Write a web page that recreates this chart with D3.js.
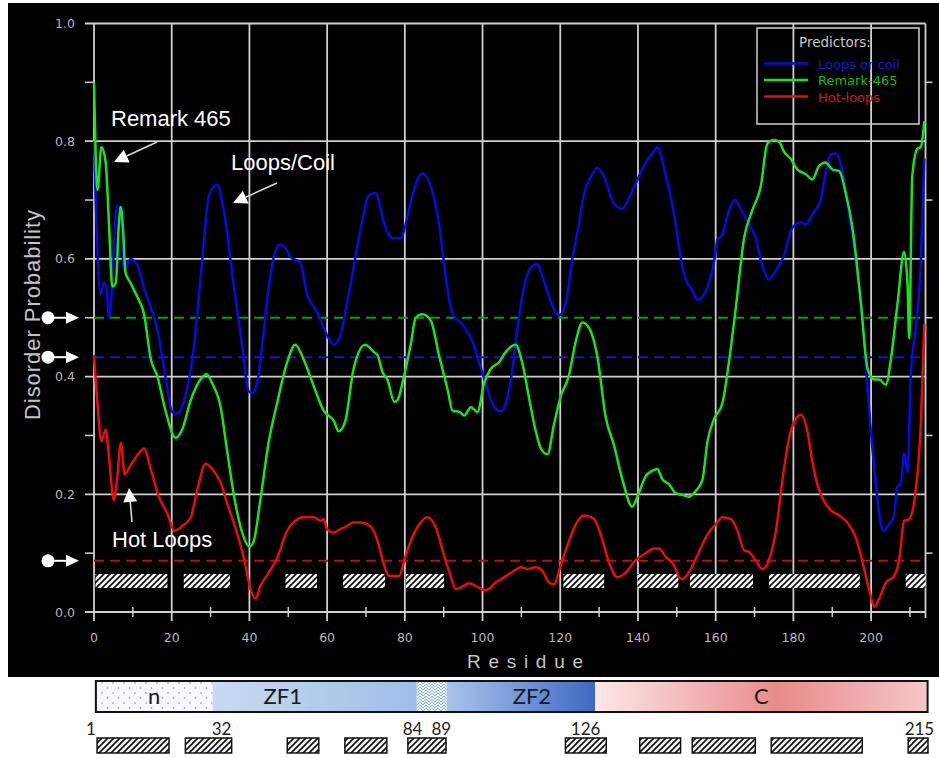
<!DOCTYPE html>
<html>
<head>
<meta charset="utf-8">
<script src="https://cdn.jsdelivr.net/npm/d3@7"></script>
<style>
  body { margin: 0; background: #fff; }
  svg { display: block; }
</style>
</head>
<body>
<div id="chart"></div>
<script>
// ---- data: [residue, probability] ----
const loopsCoil = [[0,0.80],[0.4,0.71],[1.7,0.54],[2.6,0.56],[3.2,0.55],[3.9,0.50],[6,0.69],[6.9,0.68],[7.7,0.58],[9.4,0.60],[11.1,0.59],[12.9,0.55],[16.3,0.48],[18.4,0.40],[20.1,0.34],[21.4,0.337],[23.1,0.357],[25.7,0.45],[27.8,0.594],[29.6,0.708],[31.7,0.726],[33.4,0.682],[36,0.553],[38.1,0.454],[39.8,0.375],[40.7,0.372],[42,0.389],[43.3,0.454],[45,0.553],[47.6,0.624],[48.8,0.622],[50.6,0.603],[53.1,0.594],[54.8,0.54],[57.4,0.51],[60,0.47],[61.7,0.454],[63.4,0.47],[65.1,0.524],[67.7,0.618],[69,0.664],[70.7,0.708],[72.5,0.712],[74.7,0.659],[76.8,0.635],[79,0.635],[80,0.653],[81.5,0.697],[84.5,0.745],[87.1,0.714],[88.8,0.659],[90.5,0.571],[92.3,0.506],[94.8,0.489],[97.4,0.46],[99.1,0.424],[100.8,0.389],[103,0.348],[104.7,0.341],[106,0.354],[107.7,0.413],[109,0.483],[110.7,0.553],[112.4,0.585],[114.1,0.591],[115.4,0.571],[117.1,0.536],[119.7,0.504],[121.4,0.524],[123.1,0.6],[124.8,0.659],[126.1,0.711],[127.8,0.738],[129.5,0.755],[131.2,0.741],[133.8,0.694],[136,0.685],[137.7,0.703],[139.9,0.735],[142,0.764],[143.7,0.779],[145,0.79],[147,0.746],[149.3,0.676],[151.4,0.588],[152.7,0.559],[154,0.547],[155.3,0.53],[156.6,0.536],[158.3,0.559],[160,0.612],[160.4,0.632],[161.7,0.641],[163,0.673],[165,0.7],[166.9,0.679],[168.6,0.659],[170.3,0.635],[172,0.588],[173.7,0.566],[175.5,0.58],[177.6,0.606],[179.7,0.653],[181.9,0.662],[183.2,0.659],[184.9,0.676],[187,0.7],[188.3,0.746],[189.6,0.777],[190.9,0.779],[192.2,0.761],[194.3,0.676],[196.5,0.577],[198.2,0.465],[199.5,0.343],[201.2,0.22],[202.5,0.149],[203.3,0.138],[204.6,0.149],[205.9,0.164],[206.8,0.214],[207.6,0.217],[208.5,0.27],[209.4,0.237],[210.2,0.401],[211.5,0.483],[212.8,0.594],[213.7,0.77]];

const remark465 = [[0,0.9],[0.9,0.717],[1.9,0.79],[3,0.764],[3.9,0.653],[4.7,0.553],[5.6,0.559],[6.4,0.659],[6.9,0.688],[7.5,0.647],[8.1,0.577],[9.4,0.559],[11.1,0.536],[12.9,0.506],[14.6,0.43],[16.3,0.401],[18.4,0.342],[21,0.296],[22.7,0.31],[24.9,0.36],[27.4,0.395],[29,0.404],[30.4,0.389],[32.6,0.348],[34.3,0.272],[36.4,0.184],[38.6,0.126],[40,0.111],[41.1,0.12],[42.8,0.19],[45,0.29],[47.1,0.354],[49.7,0.424],[51.8,0.454],[53.9,0.43],[56.6,0.383],[59.1,0.342],[61.7,0.325],[63,0.307],[64.7,0.325],[66.8,0.413],[69.8,0.454],[72,0.442],[73,0.436],[74.3,0.407],[75.5,0.395],[77.3,0.357],[78.1,0.36],[79.8,0.401],[81.5,0.454],[82.8,0.5],[84.5,0.506],[86.7,0.495],[88.8,0.436],[91,0.378],[92.3,0.342],[94,0.34],[95.3,0.334],[97,0.348],[98.7,0.34],[100.4,0.389],[102.1,0.413],[104.2,0.424],[106,0.442],[108.5,0.454],[110.2,0.424],[111.9,0.366],[113.7,0.307],[115,0.278],[116.7,0.268],[118.4,0.319],[120.1,0.366],[122.2,0.401],[124,0.46],[125.7,0.492],[127.4,0.483],[129.5,0.436],[131.7,0.331],[133.8,0.284],[136,0.225],[138.5,0.179],[140.2,0.202],[142,0.231],[143.7,0.24],[145,0.243],[146.3,0.225],[148,0.217],[149.7,0.202],[151.4,0.199],[153.1,0.196],[154.8,0.205],[156.6,0.225],[157.9,0.29],[159.6,0.328],[161.7,0.354],[163.4,0.424],[165.2,0.518],[167.3,0.635],[169.4,0.682],[171.6,0.723],[173.3,0.796],[175,0.802],[176.3,0.799],[177.6,0.782],[179.3,0.77],[181,0.752],[183.2,0.744],[184.9,0.735],[186.6,0.758],[188.3,0.764],[190,0.752],[191.8,0.749],[193.5,0.711],[195.2,0.653],[197.3,0.53],[199.1,0.413],[200.8,0.395],[202.1,0.395],[203.8,0.386],[205.1,0.43],[206.8,0.524],[208.5,0.612],[209.4,0.553],[209.8,0.465],[210.6,0.741],[211.9,0.787],[212.8,0.79],[213.7,0.834]];

const hotLoops = [[0,0.437],[0.9,0.354],[1.9,0.29],[3,0.31],[3.9,0.26],[5.1,0.19],[6,0.231],[6.9,0.287],[7.9,0.234],[9.4,0.249],[11.1,0.266],[12.9,0.278],[14.6,0.243],[16.7,0.196],[18.9,0.167],[20.7,0.138],[22.7,0.146],[24.9,0.161],[26.6,0.208],[28.7,0.252],[30.4,0.243],[32.6,0.22],[34.3,0.184],[36.4,0.143],[38.6,0.091],[40.3,0.038],[41.6,0.023],[42.8,0.044],[45,0.067],[47.1,0.091],[49.7,0.138],[51.8,0.155],[53.9,0.161],[56.6,0.161],[58.3,0.155],[59.1,0.158],[60,0.141],[61.7,0.135],[63.4,0.141],[65.1,0.146],[66.8,0.152],[68.5,0.152],[71.1,0.146],[73,0.12],[74.7,0.079],[76,0.061],[78.5,0.061],[80,0.091],[81.5,0.12],[83.7,0.149],[85.8,0.161],[88,0.143],[90.1,0.096],[91.8,0.061],[93.1,0.039],[94.8,0.043],[96.5,0.049],[98.3,0.044],[100.8,0.037],[103.4,0.05],[106,0.061],[108.1,0.07],[109.8,0.076],[111.5,0.073],[113.7,0.076],[115.4,0.07],[117.1,0.05],[118.4,0.047],[120.1,0.079],[122.2,0.12],[124,0.149],[126.1,0.164],[128.7,0.158],[130.4,0.132],[132.5,0.085],[134.7,0.059],[136.8,0.067],[139.4,0.088],[142,0.1],[144.1,0.108],[145.4,0.108],[147.1,0.094],[149.3,0.079],[150.6,0.059],[151.4,0.056],[153.6,0.073],[155.7,0.102],[157.9,0.132],[160,0.149],[161.7,0.161],[163.9,0.158],[165.6,0.138],[167.3,0.105],[168.6,0.102],[170.3,0.088],[172,0.073],[173.7,0.088],[175.5,0.138],[177.2,0.225],[178.9,0.296],[180.6,0.328],[181.9,0.335],[183.6,0.307],[184.9,0.255],[186.3,0.214],[188,0.187],[189.6,0.173],[191.8,0.164],[193.9,0.152],[196.1,0.126],[197.8,0.085],[199.5,0.038],[200.8,0.009],[202.1,0.023],[203.8,0.05],[205.9,0.061],[207.2,0.088],[208.5,0.155],[209.8,0.158],[211.5,0.208],[212.8,0.319],[213.7,0.489]];

// thresholds (dashed lines), same order as series
const seriesNames = ["Loops or coil", "Remark-465", "Hot-loops"];
const thresholds = [0.433, 0.5, 0.087];

// hatched regions (residue start / end)
const regionStart = [0.4, 23.1, 49.3, 64.1, 80.3, 120.8, 139.9, 153.4, 173.7, 208.9];
const regionEnd   = [18.9, 35, 57.4, 74.9, 90.1, 131.3, 150.4, 169.6, 197.1, 214];

// domain map
const domainNames = ["n", "ZF1", "", "ZF2", "C"];
const domainStart = [0.1, 30.1, 82.6, 90.3, 128.4];
const domainEnd   = [30.1, 82.6, 90.3, 128.4, 213.9];
const boundaryLabels = ["1", "32", "84", "89", "126", "215"];
const boundaryRes    = [-1.2, 32.4, 81.5, 88.9, 126.0, 211.8];

const xTicks = d3.range(0, 201, 20);
const yTicks = [0, 0.2, 0.4, 0.6, 0.8, 1.0];

// ---- drawing ----
const svg = d3.select("#chart").append("svg")
  .attr("width", 939).attr("height", 758);

const defs = svg.append("defs");

// hatch pattern
const hatch = defs.append("pattern").attr("id", "hatch")
  .attr("patternUnits", "userSpaceOnUse").attr("width", 6).attr("height", 6);
hatch.append("rect").attr("width", 6).attr("height", 6).attr("fill", "#fff");
hatch.append("path").attr("d", "M-1,1 l2,-2 M0,6 l6,-6 M5,7 l2,-2")
  .attr("stroke", "#111").attr("stroke-width", 1.7);

const dots = defs.append("pattern").attr("id", "dots")
  .attr("patternUnits", "userSpaceOnUse").attr("width", 11).attr("height", 10);
dots.append("rect").attr("width", 11).attr("height", 10).attr("fill", "#f6f9fd");
dots.append("circle").attr("cx", 3).attr("cy", 3).attr("r", 0.8).attr("fill", "#6f8db0");
dots.append("circle").attr("cx", 8.5).attr("cy", 8).attr("r", 0.8).attr("fill", "#6f8db0");

const zig = defs.append("pattern").attr("id", "zig")
  .attr("patternUnits", "userSpaceOnUse").attr("width", 6).attr("height", 6);
zig.append("rect").attr("width", 6).attr("height", 6).attr("fill", "#eef5fc");
zig.append("path").attr("d", "M0,0 L3,3 L6,0 M0,3 L3,6 L6,3")
  .attr("stroke", "#86b3dc").attr("stroke-width", 1).attr("fill", "none");

function grad(id, stops) {
  const g = defs.append("linearGradient").attr("id", id)
    .attr("x1", "0%").attr("x2", "100%").attr("y1", "0%").attr("y2", "0%");
  stops.forEach(s => g.append("stop").attr("offset", s[0]).attr("stop-color", s[1]));
}
grad("gZF1", [[0, "#c8daf0"], [1, "#9fbde7"]]);
grad("gZF2", [[0, "#a9c3ea"], [0.55, "#6f93d7"], [1, "#3e68c2"]]);
grad("gC", [[0, "#fce7e7"], [0.55, "#e98b8b"], [1, "#f5c6c6"]]);
const domainFills = ["url(#dots)", "url(#gZF1)", "url(#zig)", "url(#gZF2)", "url(#gC)"];

// black panel
svg.append("rect").attr("x", 8).attr("y", 3).attr("width", 931).attr("height", 674).attr("fill", "#000");

const x = d3.scaleLinear().domain([0, 214]).range([94, 925.5]);
const y = d3.scaleLinear().domain([0, 1]).range([612, 23.5]);
const gridColor = "#cfcfcf";

const plot = svg.append("g");

// grid
plot.append("g").selectAll("line").data(yTicks).join("line")
  .attr("x1", 85).attr("x2", x(214)).attr("y1", d => y(d)).attr("y2", d => y(d))
  .attr("stroke", gridColor).attr("stroke-width", 1.8);
plot.append("g").selectAll("line").data(xTicks).join("line")
  .attr("x1", d => x(d)).attr("x2", d => x(d)).attr("y1", y(1)).attr("y2", 621)
  .attr("stroke", gridColor).attr("stroke-width", 1.8);
plot.append("line").attr("x1", x(214)).attr("x2", x(214)).attr("y1", y(1)).attr("y2", y(0) + 6)
  .attr("stroke", gridColor).attr("stroke-width", 1.8);

// minor ticks
const minorY = d3.range(0.1, 1, 0.2);
plot.append("g").selectAll("line").data(minorY).join("line")
  .attr("x1", 85).attr("x2", 94).attr("y1", d => y(d)).attr("y2", d => y(d))
  .attr("stroke", gridColor).attr("stroke-width", 1.5);
plot.append("g").selectAll("line").data(minorY).join("line")
  .attr("x1", x(214)).attr("x2", x(214) + 7).attr("y1", d => y(d)).attr("y2", d => y(d))
  .attr("stroke", gridColor).attr("stroke-width", 1.5);
plot.append("g").selectAll("line").data(d3.range(10, 211, 20)).join("line")
  .attr("x1", d => x(d)).attr("x2", d => x(d)).attr("y1", 607).attr("y2", 617)
  .attr("stroke", gridColor).attr("stroke-width", 1.5);

// tick labels
plot.append("g").selectAll("text").data(yTicks).join("text")
  .attr("x", 75).attr("y", d => y(d) + 4.5).attr("text-anchor", "end")
  .attr("fill", "#b8b8b8").style("font", "12.5px 'DejaVu Sans'")
  .text(d3.format(".1f"));
plot.append("g").selectAll("text").data(xTicks).join("text")
  .attr("x", d => x(d)).attr("y", 642).attr("text-anchor", "middle")
  .attr("fill", "#b8b8b8").style("font", "12.5px 'DejaVu Sans'")
  .text(d => d);

// axis titles
svg.append("text").attr("x", 525).attr("y", 668).attr("text-anchor", "middle")
  .attr("fill", "#c4c4c4").style("font", "19px 'Liberation Sans'")
  .attr("textLength", 116).attr("lengthAdjust", "spacing").text("Residue");
svg.append("text").attr("transform", "translate(40,315) rotate(-90)")
  .attr("text-anchor", "middle").attr("fill", "#c4c4c4")
  .style("font", "22px 'Liberation Sans'")
  .attr("textLength", 210).attr("lengthAdjust", "spacing").text("Disorder Probability");

// hatched regions in plot
plot.append("g").selectAll("rect").data(regionStart).join("rect")
  .attr("x", (d, i) => x(d)).attr("width", (d, i) => x(regionEnd[i]) - x(d))
  .attr("y", 574).attr("height", 14).attr("fill", "url(#hatch)");

// dashed thresholds
const lineColors = ["#0a0ae0", "#1ee01e", "#e60d0d"];
const dashColors = ["#1818b8", "#109a10", "#b01010"];
plot.append("g").selectAll("line").data(thresholds).join("line")
  .attr("x1", x(0)).attr("x2", x(214)).attr("y1", d => y(d)).attr("y2", d => y(d))
  .attr("stroke", (d, i) => dashColors[i]).attr("stroke-width", 2)
  .attr("stroke-dasharray", "10,6");

// curves
const line = d3.line().x(d => x(d[0])).y(d => y(d[1])).curve(d3.curveMonotoneX);
const series = [loopsCoil, remark465, hotLoops];
plot.append("g").selectAll("path").data(series).join("path")
  .attr("d", line).attr("fill", "none")
  .attr("stroke", (d, i) => lineColors[i]).attr("stroke-width", 2.5)
  .attr("stroke-linejoin", "round");

// threshold markers on the left
const mk = svg.append("g").selectAll("g").data(thresholds).join("g")
  .attr("transform", d => `translate(0,${y(d)})`);
mk.append("circle").attr("cx", 48).attr("cy", 0).attr("r", 6.5).attr("fill", "#fff");
mk.append("line").attr("x1", 50).attr("x2", 68).attr("stroke", "#fff").attr("stroke-width", 2);
mk.append("path").attr("d", "M66,-6 L79,0 L66,6 Z").attr("fill", "#fff");

// annotations
const notes = [
  { text: "Remark 465", tx: 111, ty: 126, from: [157, 142], to: [114, 162] },
  { text: "Loops/Coil", tx: 231, ty: 170, from: [277, 183], to: [233, 203] },
  { text: "Hot Loops", tx: 112, ty: 547, from: [132, 522], to: [129, 488] }
];
const ann = svg.append("g").selectAll("g").data(notes).join("g");
ann.append("text").attr("x", d => d.tx).attr("y", d => d.ty).attr("fill", "#fff")
  .style("font", "22px 'Liberation Sans'").text(d => d.text);
ann.each(function(d) {
  const g = d3.select(this);
  const dx = d.to[0] - d.from[0], dy = d.to[1] - d.from[1];
  const len = Math.hypot(dx, dy), ux = dx / len, uy = dy / len;
  const hl = 14, hw = 7;
  const bx = d.to[0] - ux * hl, by = d.to[1] - uy * hl;
  g.append("line").attr("x1", d.from[0]).attr("y1", d.from[1]).attr("x2", bx).attr("y2", by)
    .attr("stroke", "#d8d8d8").attr("stroke-width", 1.6);
  g.append("path").attr("fill", "#fff")
    .attr("d", `M${d.to[0]},${d.to[1]} L${bx - uy * hw},${by + ux * hw} L${bx + uy * hw},${by - ux * hw} Z`);
});

// legend
const lg = svg.append("g");
lg.append("rect").attr("x", 757).attr("y", 28).attr("width", 162).attr("height", 96)
  .attr("fill", "none").attr("stroke", gridColor).attr("stroke-width", 1.5);
lg.append("text").attr("x", 799).attr("y", 47).attr("fill", "#c8c8c8")
  .style("font", "13.5px 'DejaVu Sans'").text("Predictors:");
const legendTextColors = ["#1a1ad0", "#18b818", "#d01818"];
const li = lg.selectAll("g.item").data(seriesNames).join("g").attr("class", "item")
  .attr("transform", (d, i) => `translate(0,${63.5 + i * 16.5})`);
li.append("line").attr("x1", 764).attr("x2", 808).attr("stroke", (d, i) => lineColors[i]).attr("stroke-width", 2.5);
li.append("text").attr("x", 818).attr("y", 5).attr("fill", (d, i) => legendTextColors[i])
  .style("font", "13px 'DejaVu Sans'").text(d => d);

// ---- domain map below the chart ----
const xb = d3.scaleLinear().domain([0, 214]).range([95.5, 928]);
const dm = svg.append("g");
dm.selectAll("rect.seg").data(domainStart).join("rect").attr("class", "seg")
  .attr("x", d => xb(d)).attr("width", (d, i) => xb(domainEnd[i]) - xb(d))
  .attr("y", 681).attr("height", 31).attr("fill", (d, i) => domainFills[i]);
dm.append("rect").attr("x", xb(domainStart[0])).attr("y", 681)
  .attr("width", xb(domainEnd[4]) - xb(domainStart[0])).attr("height", 31)
  .attr("fill", "none").attr("stroke", "#111").attr("stroke-width", 2);
const labelShift = [0, -32, 0, 11, 0];
dm.selectAll("text.dn").data(domainNames).join("text").attr("class", "dn")
  .attr("x", (d, i) => (xb(domainStart[i]) + xb(domainEnd[i])) / 2 + labelShift[i])
  .attr("y", 704).attr("text-anchor", "middle").attr("fill", "#1a1a1a")
  .style("font", "22px Lato").text(d => d);
dm.selectAll("text.bl").data(boundaryLabels).join("text").attr("class", "bl")
  .attr("x", (d, i) => xb(boundaryRes[i])).attr("y", 735).attr("text-anchor", "middle")
  .attr("fill", "#222").style("font", "17px Lato").text(d => d);
dm.selectAll("rect.hb").data(regionStart).join("rect").attr("class", "hb")
  .attr("x", d => xb(d)).attr("width", (d, i) => xb(regionEnd[i]) - xb(d))
  .attr("y", 738).attr("height", 15).attr("fill", "url(#hatch)")
  .attr("stroke", "#111").attr("stroke-width", 1.5);
</script>
</body>
</html>
